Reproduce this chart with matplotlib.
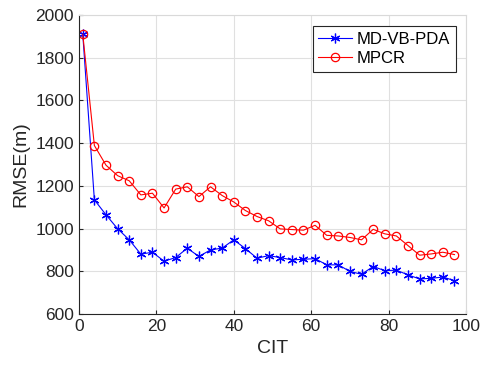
import matplotlib
matplotlib.use("Agg")
import matplotlib.pyplot as plt

# CIT sampling points
cit = list(range(1, 98, 3))

# RMSE values (m)
rmse_mdvbpda = [1910, 1135, 1065, 1000, 948, 881, 890, 848, 865, 909,
                870, 901, 909, 948, 907, 862, 874, 865, 854, 857,
                860, 831, 831, 800, 787, 823, 804, 806, 784, 765,
                768, 774, 757]
rmse_mpcr = [1910, 1389, 1297, 1248, 1224, 1158, 1166, 1097, 1185, 1196,
             1150, 1196, 1155, 1125, 1085, 1057, 1037, 999, 996, 993,
             1016, 969, 966, 959, 948, 997, 976, 966, 921, 876,
             882, 890, 879]

plt.rcParams["font.family"] = ["Liberation Sans", "DejaVu Sans"]

fig = plt.figure(figsize=(4.81, 3.71), dpi=100)
ax = fig.add_axes([0.164, 0.153, 0.805, 0.807])

# asterisk marker like MATLAB '*'
ax.plot(cit, rmse_mdvbpda, color="#0000ff", marker=(6, 2, 0), markersize=7,
        markeredgewidth=0.9, linewidth=0.8, label="MD-VB-PDA")
ax.plot(cit, rmse_mpcr, color="#ff0000", marker="o", markersize=6,
        markerfacecolor="none", markeredgewidth=0.9, linewidth=0.8,
        label="MPCR")

ax.set_xlim(0, 100)
ax.set_ylim(600, 2000)
ax.set_xticks([0, 20, 40, 60, 80, 100])
ax.set_yticks(range(600, 2001, 200))

ax.grid(True, color="#e0e0e0", linewidth=0.8)
ax.set_axisbelow(True)

dark = "#262626"
for s in ["left", "bottom"]:
    ax.spines[s].set_color(dark)
    ax.spines[s].set_linewidth(0.8)
for s in ["top", "right"]:
    ax.spines[s].set_color("#d9d9d9")
    ax.spines[s].set_linewidth(0.8)

ax.tick_params(direction="in", length=3, colors=dark, labelsize=12.5,
               top=False, right=False)
ax.set_xlabel("CIT", fontsize=14, color=dark, labelpad=4)
ax.set_ylabel("RMSE(m)", fontsize=14, color=dark, labelpad=4)

leg = ax.legend(loc="upper right", fontsize=12, fancybox=False,
                framealpha=1, edgecolor=dark, borderpad=0.35,
                handlelength=2.0, handletextpad=0.3, labelspacing=0.25,
                borderaxespad=0, bbox_to_anchor=(0.974, 0.963))
leg.get_frame().set_linewidth(0.8)

fig.savefig("out.png", dpi=100)
